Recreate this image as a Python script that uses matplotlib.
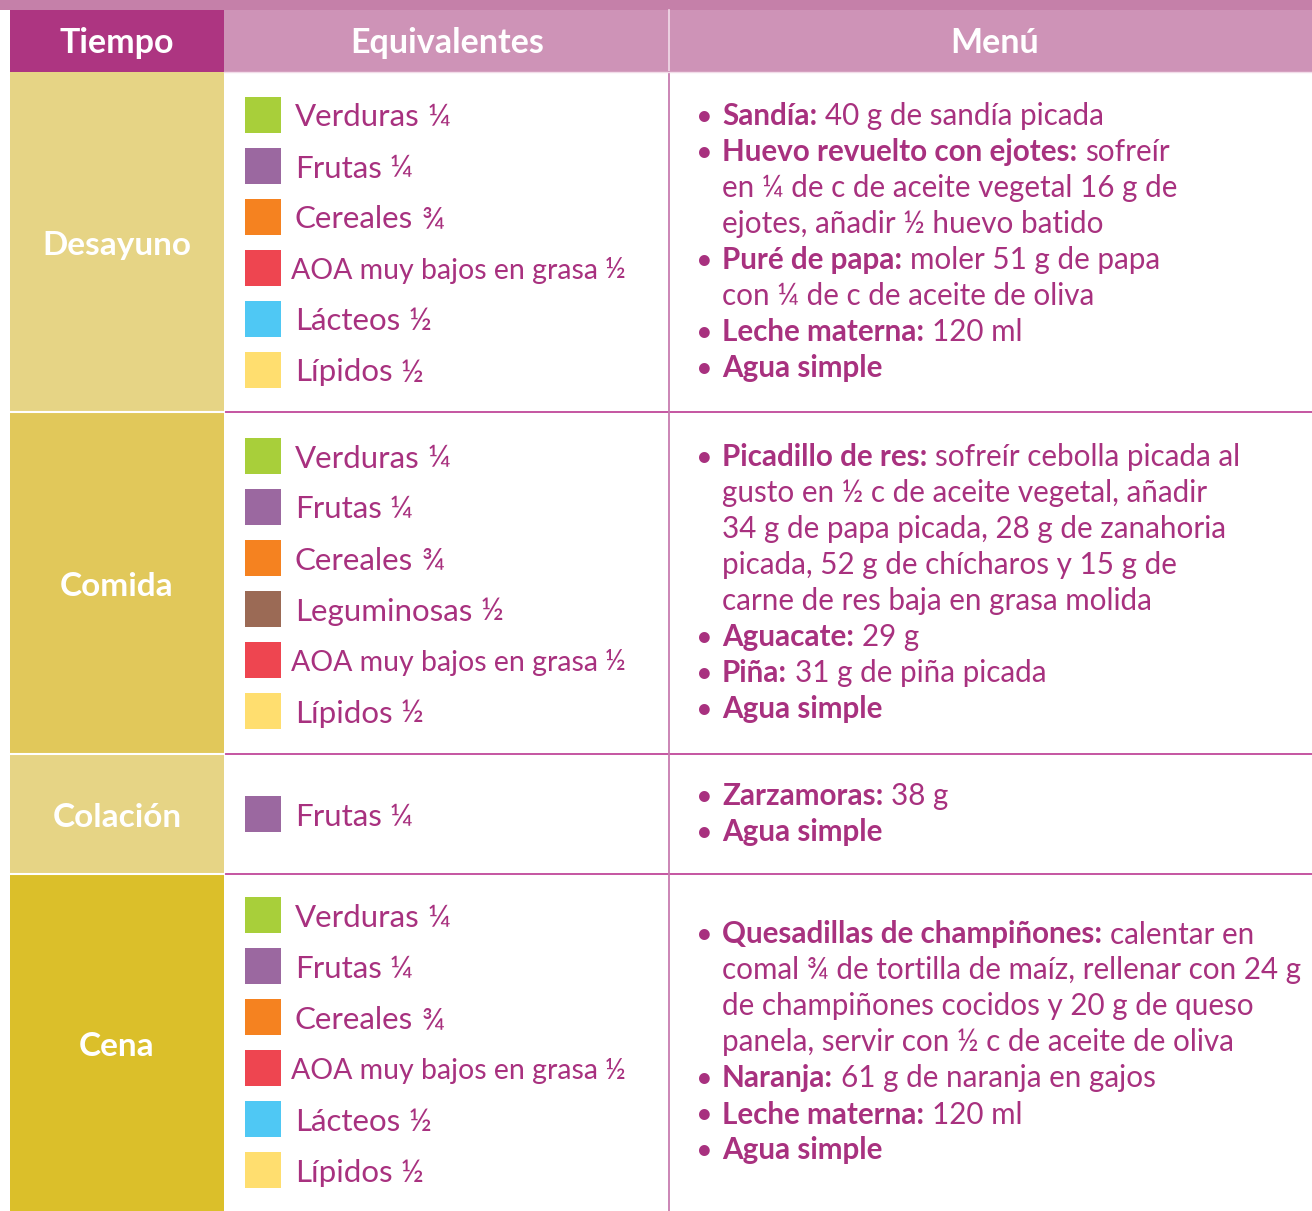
import matplotlib
matplotlib.use("Agg")
import matplotlib.pyplot as plt
from matplotlib.patches import Rectangle

# Datos de la tabla
encabezados = ["Tiempo", "Equivalentes", "Menú"]
tiempos = ["Desayuno", "Comida", "Colación", "Cena"]

eq_desayuno = [("Verduras", "¼"), ("Frutas", "¼"), ("Cereales", "¾"),
               ("AOA muy bajos en grasa", "½"), ("Lácteos", "½"), ("Lípidos", "½")]
eq_comida = [("Verduras", "¼"), ("Frutas", "¼"), ("Cereales", "¾"),
             ("Leguminosas", "½"), ("AOA muy bajos en grasa", "½"), ("Lípidos", "½")]
eq_colacion = [("Frutas", "¼")]
eq_cena = [("Verduras", "¼"), ("Frutas", "¼"), ("Cereales", "¾"),
           ("AOA muy bajos en grasa", "½"), ("Lácteos", "½"), ("Lípidos", "½")]

# (negrita, resto de la primera línea, líneas siguientes)
menu_desayuno = [
    ("Sandía:", "40 g de sandía picada", []),
    ("Huevo revuelto con ejotes:", "sofreír",
     ["en ¼ de c de aceite vegetal 16 g de", "ejotes, añadir ½ huevo batido"]),
    ("Puré de papa:", "moler 51 g de papa", ["con ¼ de c de aceite de oliva"]),
    ("Leche materna:", "120 ml", []),
    ("Agua simple", "", []),
]
menu_comida = [
    ("Picadillo de res:", "sofreír cebolla picada al",
     ["gusto en ½ c de aceite vegetal, añadir",
      "34 g de papa picada, 28 g de zanahoria",
      "picada, 52 g de chícharos y 15 g de",
      "carne de res baja en grasa molida"]),
    ("Aguacate:", "29 g", []),
    ("Piña:", "31 g de piña picada", []),
    ("Agua simple", "", []),
]
menu_colacion = [
    ("Zarzamoras:", "38 g", []),
    ("Agua simple", "", []),
]
menu_cena = [
    ("Quesadillas de champiñones:", "calentar en",
     ["comal ¾ de tortilla de maíz, rellenar con 24 g",
      "de champiñones cocidos y 20 g de queso",
      "panela, servir con ½ c de aceite de oliva"]),
    ("Naranja:", "61 g de naranja en gajos", []),
    ("Leche materna:", "120 ml", []),
    ("Agua simple", "", []),
]

equivalentes = [eq_desayuno, eq_comida, eq_colacion, eq_cena]
menus = [menu_desayuno, menu_comida, menu_colacion, menu_cena]

# Estilos
FONT = "Lato"
MAG = "#a8317f"
colores_grupo = {
    "Verduras": "#a8cf3a",
    "Frutas": "#9b68a0",
    "Cereales": "#f58220",
    "Leguminosas": "#9b6a55",
    "AOA muy bajos en grasa": "#ee4550",
    "Lácteos": "#4fc8f4",
    "Lípidos": "#ffde6f",
}
colores_tiempo = ["#e6d485", "#e1c85a", "#e6d485", "#dbbf2a"]
filas_y = [72, 412, 754, 874, 1211]

W, H = 1312, 1211
fig = plt.figure(figsize=(W / 100, H / 100), dpi=100)
ax = fig.add_axes([0, 0, 1, 1])
ax.set_xlim(0, W)
ax.set_ylim(H, 0)
ax.axis("off")
r = fig.canvas.get_renderer()


def ancho(s, size, weight="normal"):
    t = ax.text(0, 0, s, fontsize=size, fontweight=weight, family=FONT)
    w = t.get_window_extent(renderer=r).width
    t.remove()
    return w


def linea(x, y, partes, size):
    # partes: lista de (texto, peso), separadas por un espacio
    for i, (txt, peso) in enumerate(partes):
        if not txt:
            continue
        if i > 0:
            x += ancho("a a", size) - ancho("aa", size)
        t = ax.text(x, y, txt, fontsize=size, fontweight=peso, color=MAG,
                    family=FONT, va="baseline", ha="left")
        x += t.get_window_extent(renderer=r).width


# Encabezado
ax.add_patch(Rectangle((0, 0), W, 10, color="#c580a9", lw=0))
ax.add_patch(Rectangle((10, 10), 214, 62, color="#ad3581", lw=0))
ax.add_patch(Rectangle((224, 10), W - 224, 62, color="#ce93b7", lw=0))
ax.plot([669, 669], [10, 71], color="#f2dce9", lw=1.2)
for txt, xc in zip(encabezados, [117, 447, 995]):
    ax.text(xc, 53, txt, fontsize=24.5, fontweight="bold", color="white",
            family=FONT, ha="center", va="baseline")

# Filas
for i, tiempo in enumerate(tiempos):
    y0, y1 = filas_y[i], filas_y[i + 1]
    yc = (y0 + y1) / 2
    ax.add_patch(Rectangle((10, y0), 214, y1 - y0, color=colores_tiempo[i], lw=0))
    ax.text(117, yc + 13, tiempo, fontsize=24, fontweight="bold", color="white",
            family=FONT, ha="center", va="baseline")

    # equivalentes
    eq = equivalentes[i]
    paso = 51
    ys = [yc - paso * (len(eq) - 1) / 2 + k * paso for k in range(len(eq))]
    for (grupo, porcion), yy in zip(eq, ys):
        ax.add_patch(Rectangle((245, yy - 18), 36, 36, color=colores_grupo[grupo], lw=0))
        if grupo.startswith("AOA"):
            linea(291, yy + 11, [(grupo, "normal"), (porcion, "normal")], 20.5)
        else:
            linea(295, yy + 12, [(grupo, "normal"), (porcion, "normal")], 22.5)

    # menú
    renglones = []
    for negrita, resto, siguientes in menus[i]:
        renglones.append(("bala", negrita, resto))
        for s in siguientes:
            renglones.append(("cont", "", s))
    paso = 36
    ys = [yc - paso * (len(renglones) - 1) / 2 + k * paso for k in range(len(renglones))]
    for (tipo, negrita, resto), yy in zip(renglones, ys):
        if tipo == "bala":
            ax.text(696, yy + 9, "•", fontsize=21, color=MAG, family=FONT,
                    va="baseline", ha="left")
            linea(722, yy + 9, [(negrita, "bold"), (resto, "normal")], 21.3)
        else:
            linea(722, yy + 9, [(resto, "normal")], 21.3)

    if i > 0:
        ax.plot([224, W], [y0, y0], color="#c0489a", lw=1.3)
        ax.plot([10, 224], [y0, y0], color="white", lw=1.5)

ax.plot([669, 669], [72, H], color="#c77cb0", lw=1.3)
ax.plot([224, W], [72, 72], color="#f2dce9", lw=1)

fig.savefig("out.png", dpi=100)
